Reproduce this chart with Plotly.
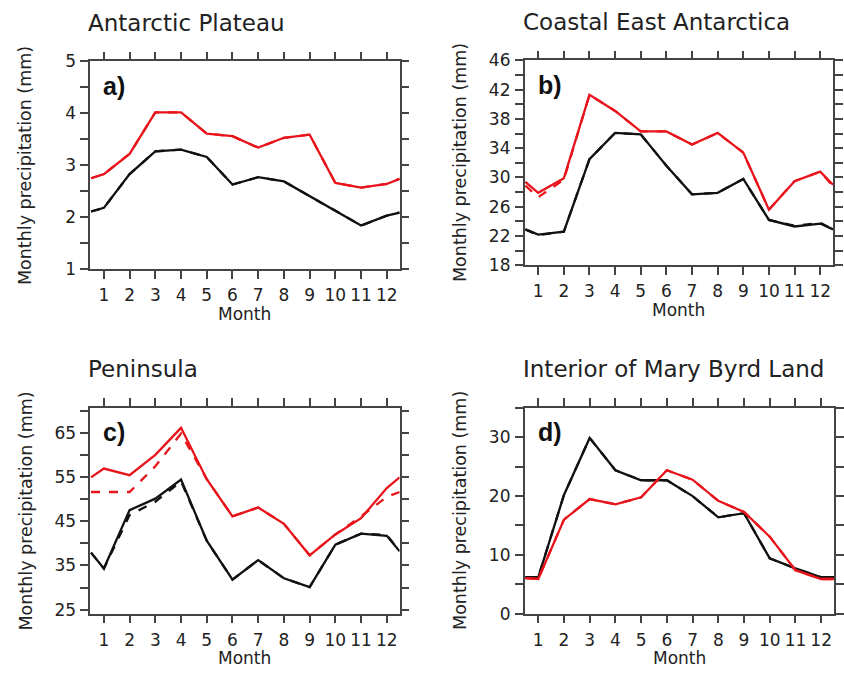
import plotly.graph_objects as go

W, H = 844, 679

# x positions: half-month edges (0.5, 12.5) plus months 1..12
month_pos = [0.5, 1, 2, 3, 4, 5, 6, 7, 8, 9, 10, 11, 12, 12.5]
month_ticks = [1, 2, 3, 4, 5, 6, 7, 8, 9, 10, 11, 12]
month_labels = ["1", "2", "3", "4", "5", "6", "7", "8", "9", "10", "11", "12"]

# a) Antarctic Plateau
a_red = [2.75, 2.83, 3.22, 4.02, 4.02, 3.61, 3.56, 3.34, 3.53, 3.59, 2.66, 2.57, 2.64, 2.74]
a_red_dash = [2.75, 2.83, 3.22, 4.02, 4.02, 3.61, 3.56, 3.34, 3.53, 3.59, 2.66, 2.57, 2.64, 2.74]
a_black = [2.11, 2.18, 2.83, 3.27, 3.30, 3.16, 2.63, 2.77, 2.69, 2.41, 2.13, 1.84, 2.03, 2.09]
a_black_dash = [2.11, 2.18, 2.83, 3.27, 3.30, 3.16, 2.63, 2.77, 2.69, 2.41, 2.13, 1.84, 2.03, 2.09]

# b) Coastal East Antarctica
b_red = [29.4, 27.9, 29.9, 41.3, 39.1, 36.3, 36.3, 34.5, 36.1, 33.4, 25.6, 29.5, 30.8, 29.0]
b_red_dash = [28.9, 27.3, 29.7, 41.3, 39.1, 36.3, 36.3, 34.5, 36.1, 33.4, 25.6, 29.5, 30.8, 28.8]
b_black = [22.9, 22.2, 22.6, 32.5, 36.1, 35.9, 31.6, 27.7, 27.9, 29.8, 24.2, 23.3, 23.7, 22.9]
b_black_dash = [22.9, 22.1, 22.6, 32.5, 36.1, 35.9, 31.6, 27.7, 27.9, 29.8, 24.2, 23.4, 23.8, 22.9]

# c) Peninsula
c_red = [54.9, 56.9, 55.4, 60.0, 66.1, 54.5, 46.1, 48.1, 44.4, 37.3, 42.0, 45.7, 52.5, 54.9]
c_red_dash = [51.6, 51.6, 51.6, 57.4, 64.8, 54.5, 46.1, 48.1, 44.4, 37.3, 42.0, 46.1, 50.5, 51.6]
c_black = [37.9, 34.3, 47.5, 50.1, 54.4, 40.6, 31.8, 36.2, 32.1, 30.1, 39.7, 42.2, 41.7, 38.2]
c_black_dash = [37.9, 34.3, 46.4, 49.4, 54.0, 40.6, 31.8, 36.2, 32.1, 30.1, 39.7, 42.2, 41.9, 38.2]

# d) Interior of Mary Byrd Land
d_red = [6.05, 5.9, 16.0, 19.5, 18.6, 19.8, 24.4, 22.8, 19.2, 17.3, 13.1, 7.4, 5.9, 5.9]
d_red_dash = [6.05, 5.9, 16.0, 19.5, 18.6, 19.8, 24.4, 22.8, 19.2, 17.3, 13.1, 7.4, 5.9, 5.9]
d_black = [6.2, 6.2, 20.2, 29.9, 24.4, 22.7, 22.7, 20.0, 16.4, 17.1, 9.4, 7.7, 6.2, 6.2]
d_black_dash = [6.2, 6.2, 20.2, 29.9, 24.4, 22.7, 22.7, 20.0, 16.4, 17.1, 9.4, 7.7, 6.2, 6.2]

titles = ["Antarctic Plateau", "Coastal East Antarctica", "Peninsula", "Interior of Mary Byrd Land"]
panel_labels = ["a)", "b)", "c)", "d)"]

RED = "#e8141b"
BLACK = "#111111"
FONT = "DejaVu Sans"

# pixel boxes of the four plot frames (left, right, top, bottom)
boxes = [(91, 403, 53, 267), (529, 840, 52, 263), (91, 403, 410, 622), (529, 841, 410, 622)]
yranges = [[1, 5], [18, 46], [24.1, 70.6], [0, 35]]
ydticks = [1, 4, 10, 10]
ytick0 = [1, 18, 25, 0]
yminor = [0.5, 2, 5, 5]

series = [
    (a_red, a_red_dash, a_black, a_black_dash),
    (b_red, b_red_dash, b_black, b_black_dash),
    (c_red, c_red_dash, c_black, c_black_dash),
    (d_red, d_red_dash, d_black, d_black_dash),
]

fig = go.Figure()

def px(x):
    return x / W

def py(y):
    return 1 - y / H

annotations = []
for i in range(4):
    l, r, t, b = boxes[i]
    xa = "x" if i == 0 else f"x{i+1}"
    ya = "y" if i == 0 else f"y{i+1}"
    red, red_d, blk, blk_d = series[i]
    for vals, color, dash in [(blk_d, BLACK, "dash"), (blk, BLACK, "solid"),
                              (red_d, RED, "dash"), (red, RED, "solid")]:
        fig.add_trace(go.Scatter(x=month_pos, y=vals, mode="lines",
                                 line=dict(color=color, width=2.3, dash=dash),
                                 xaxis=xa, yaxis=ya, showlegend=False))
    axis_common = dict(showline=True, linecolor="#444", linewidth=1.5, mirror="ticks",
                       ticks="outside", ticklen=8, tickwidth=1.5, tickcolor="#444",
                       showgrid=False, zeroline=False,
                       tickfont=dict(family=FONT, size=17, color="#222"))
    fig.layout[("xaxis" if i == 0 else f"xaxis{i+1}")] = dict(
        domain=[px(l), px(r)], range=[0.47, 12.5], anchor=ya,
        tickmode="array", tickvals=month_ticks, ticktext=month_labels,
        ticklabelstandoff=2, **axis_common)
    fig.layout[("yaxis" if i == 0 else f"yaxis{i+1}")] = dict(
        domain=[py(b), py(t)], range=yranges[i], anchor=xa,
        tick0=ytick0[i], dtick=ydticks[i], ticklabelstandoff=1,
        minor=dict(dtick=yminor[i], tick0=ytick0[i], ticks="outside", ticklen=8,
                   tickwidth=1.5, tickcolor="#444", showgrid=False),
        **axis_common)
    # panel title
    annotations.append(dict(text=titles[i], x=px(l - 4), y=py(t - 40), xref="paper", yref="paper",
                            xanchor="left", yanchor="middle", showarrow=False,
                            font=dict(family=FONT, size=23, color="#222")))
    # panel label
    annotations.append(dict(text="<b>" + panel_labels[i] + "</b>", x=px(l + 11), y=py(t + 25),
                            xref="paper", yref="paper", xanchor="left", yanchor="middle",
                            showarrow=False, font=dict(family="Liberation Sans", size=25, color="#111")))
    # x title
    annotations.append(dict(text="Month", x=px((l + r) / 2), y=py(b + 46), xref="paper", yref="paper",
                            xanchor="center", yanchor="middle", showarrow=False,
                            font=dict(family=FONT, size=17, color="#222")))
    # y title
    annotations.append(dict(text="Monthly precipitation (mm)", x=px(l - 65), y=py((t + b) / 2),
                            xref="paper", yref="paper", xanchor="center", yanchor="middle",
                            textangle=-90, showarrow=False,
                            font=dict(family=FONT, size=17.5, color="#222")))

fig.update_layout(width=W, height=H, margin=dict(l=0, r=0, t=0, b=0),
                  plot_bgcolor="white", paper_bgcolor="white", annotations=annotations)

fig.write_html("out.html", config={"displayModeBar": False},
               post_script="document.body.style.margin='0px';document.body.style.padding='0px';")
